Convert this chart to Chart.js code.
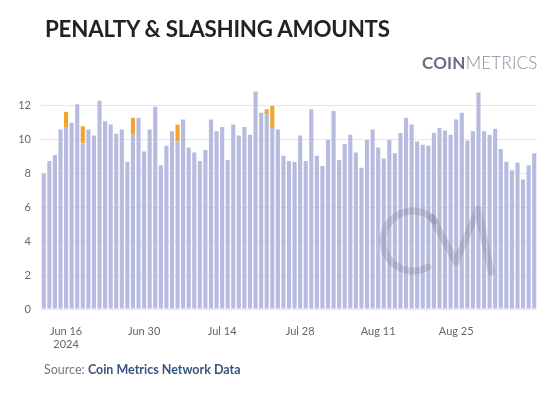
<!DOCTYPE html>
<html>
<head>
<meta charset="utf-8">
<script src="https://cdn.jsdelivr.net/npm/chart.js@4/dist/chart.umd.min.js"></script>
<style>
  html, body { margin: 0; padding: 0; background: #fff; }
  #wrap { position: relative; width: 555px; height: 394px; overflow: hidden; font-family: Lato, sans-serif; }
  #title { position: absolute; left: 45px; top: 15px; font-size: 22.3px; font-weight: 700; color: #222; letter-spacing: -0.2px; }
  #logo { position: absolute; left: 422px; top: 52px; font-size: 17px; color: #6b6b86; letter-spacing: 0.2px; }
  #logo b { font-weight: 700; }
  #logo span { font-weight: 300; color: #8c8ca2; }
  #source { position: absolute; left: 44px; top: 362px; font-size: 12.5px; color: #777; }
  #source span { color: #35567a; font-weight: 700; }
  canvas { position: absolute; left: 0; top: 0; }
</style>
</head>
<body>
<div id="wrap">
  <canvas id="myChart" width="555" height="394"></canvas>
  <div id="title">PENALTY &amp; SLASHING AMOUNTS</div>
  <div id="logo"><b>COIN</b><span>METRICS</span></div>
  <div id="source">Source: <span>Coin Metrics Network Data</span></div>
</div>
<script>
// daily values, Jun 12 2024 -> Sep 8 2024
var startDate = "2024-06-12";

var penalty = [
  8.0, 8.75, 9.1, 10.6, 10.75, 11.0, 12.1, 9.8, 10.6, 10.25,
  12.3, 11.1, 10.9, 10.35, 10.6, 8.7, 10.3, 11.3, 9.3, 10.6,
  11.95, 8.5, 9.65, 10.5, 9.9, 11.2, 9.55, 9.25, 8.75, 9.4,
  11.2, 10.5, 10.75, 8.8, 10.9, 10.25, 10.75, 10.3, 12.85, 11.6,
  11.5, 10.7, 10.6, 9.05, 8.75, 8.7, 10.25, 8.75, 11.8, 9.05,
  8.45, 10.0, 11.7, 8.8, 9.75, 10.3, 9.25, 8.35, 10.0, 10.6,
  9.55, 8.9, 10.0, 9.2, 10.4, 11.3, 10.9, 9.9, 9.7, 9.65,
  10.4, 10.7, 10.55, 10.3, 11.2, 11.6, 9.95, 10.5, 12.8, 10.5,
  10.3, 10.65, 9.45, 8.7, 8.2, 8.65, 7.65, 8.5, 9.2
];

var slashing = [
  0, 0, 0, 0, 0.9, 0, 0, 1.0, 0, 0,
  0, 0, 0, 0, 0, 0, 1.0, 0, 0, 0,
  0, 0, 0, 0, 1.0, 0, 0, 0, 0, 0,
  0, 0, 0, 0, 0, 0, 0, 0, 0, 0,
  0.3, 1.3, 0, 0, 0, 0, 0, 0, 0, 0,
  0, 0, 0, 0, 0, 0, 0, 0, 0, 0,
  0, 0, 0, 0, 0, 0, 0, 0, 0, 0,
  0, 0, 0, 0, 0, 0, 0, 0, 0, 0,
  0, 0, 0, 0, 0, 0, 0, 0, 0
];

var tickLabels = {
  "Jun 16": ["Jun 16", "2024"],
  "Jun 30": "Jun 30",
  "Jul 14": "Jul 14",
  "Jul 28": "Jul 28",
  "Aug 11": "Aug 11",
  "Aug 25": "Aug 25"
};

var months = ["Jan","Feb","Mar","Apr","May","Jun","Jul","Aug","Sep","Oct","Nov","Dec"];
var labels = [];
var d = new Date(startDate + "T00:00:00Z");
for (var i = 0; i < penalty.length; i++) {
  labels.push(months[d.getUTCMonth()] + " " + d.getUTCDate());
  d.setUTCDate(d.getUTCDate() + 1);
}

// faint CM watermark over the bars
var watermark = {
  id: 'watermark',
  afterDatasetsDraw: function (chart) {
    var c = chart.ctx;
    c.save();
    c.strokeStyle = "rgba(120,120,135,0.28)";
    c.lineWidth = 7;
    c.lineCap = "round";
    c.lineJoin = "round";
    c.beginPath();
    c.arc(413, 241, 30, -0.75, 1.05, true);
    c.stroke();
    c.beginPath();
    c.moveTo(432, 218);
    c.lineTo(456, 262);
    c.lineTo(478, 209);
    c.lineTo(491, 272);
    c.stroke();
    c.restore();
  }
};

var ctx = document.getElementById('myChart');

var chart = new Chart(ctx, {
  type: 'bar',
  data: {
    labels: labels,
    datasets: [
      {
        label: "Penalty",
        data: penalty,
        backgroundColor: "#b7bbe0",
        barPercentage: 0.74,
        categoryPercentage: 1.0
      },
      {
        label: "Slashing",
        data: slashing,
        backgroundColor: "#eea532",
        barPercentage: 0.74,
        categoryPercentage: 1.0
      }
    ]
  },
  options: {
    responsive: false,
    animation: false,
    layout: { padding: { top: 89, right: 18, left: 0, bottom: 0 } },
    plugins: {
      legend: { display: false },
      tooltip: { enabled: false }
    },
    scales: {
      x: {
        stacked: true,
        grid: { display: false },
        border: { display: false },
        ticks: {
          autoSkip: false,
          maxRotation: 0,
          padding: 8,
          color: "#666",
          font: { family: "Lato", size: 11 },
          callback: function (val, idx) {
            var l = this.getLabelForValue(val);
            return tickLabels[l] || null;
          }
        },
        afterFit: function (s) { s.height = 85; }
      },
      y: {
        stacked: true,
        min: 0,
        max: 13,
        grid: { color: "#e6e6e6", drawTicks: false },
        border: { display: false },
        ticks: {
          stepSize: 2,
          padding: 10,
          color: "#666",
          font: { family: "Lato", size: 11 }
        },
        afterBuildTicks: function (s) {
          s.ticks = s.ticks.filter(function (t) { return t.value % 2 === 0; });
        },
        afterFit: function (s) { s.width = 41; }
      }
    }
  },
  plugins: [watermark]
});
</script>
</body>
</html>
